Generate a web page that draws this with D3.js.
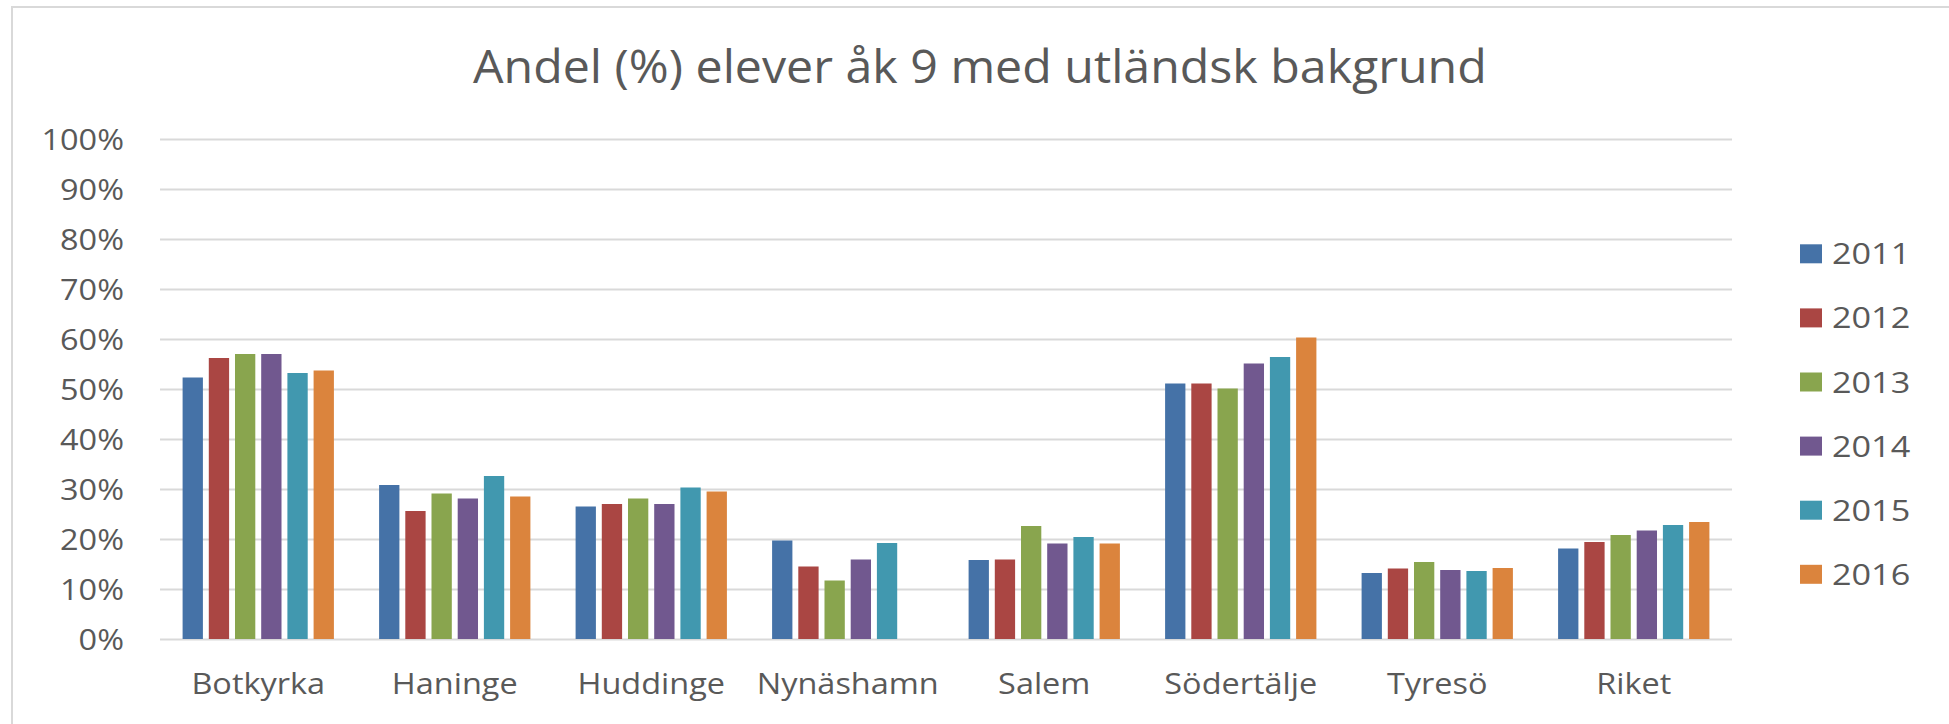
<!DOCTYPE html>
<html>
<head>
<meta charset="utf-8">
<script src="https://cdn.jsdelivr.net/npm/d3@7"></script>
<style>
  html, body { margin: 0; padding: 0; background: #ffffff; }
  svg { display: block; }
  text { font-family: "Open Sans", "DejaVu Sans", sans-serif; fill: #595959; }
</style>
</head>
<body>
<script>
// ---- data ----
const title = "Andel (%) elever åk 9 med utländsk bakgrund";
const categories = ["Botkyrka", "Haninge", "Huddinge", "Nynäshamn", "Salem", "Södertälje", "Tyresö", "Riket"];
const years = ["2011", "2012", "2013", "2014", "2015", "2016"];
const s2011 = [52.3, 30.8, 26.5, 19.7, 15.8, 51.1, 13.2, 18.1];
const s2012 = [56.2, 25.6, 27.0, 14.5, 15.9, 51.1, 14.1, 19.4];
const s2013 = [57.0, 29.1, 28.1, 11.7, 22.6, 50.1, 15.4, 20.8];
const s2014 = [57.0, 28.1, 27.0, 15.9, 19.1, 55.1, 13.8, 21.7];
const s2015 = [53.2, 32.6, 30.3, 19.2, 20.4, 56.4, 13.6, 22.8];
const s2016 = [53.7, 28.5, 29.5, null, 19.1, 60.3, 14.2, 23.4];
const yTicks = [0, 10, 20, 30, 40, 50, 60, 70, 80, 90, 100];
const colors = ["#4572A7", "#AA4643", "#89A54E", "#71588F", "#4198AF", "#DB843D"];

const seriesValues = [s2011, s2012, s2013, s2014, s2015, s2016];

// ---- layout ----
const W = 1949, H = 724;
const plot = { left: 160, right: 1732, top: 139, bottom: 639 };
const stretch = 1.12;

const svg = d3.select("body").append("svg").attr("width", W).attr("height", H);

// chart border (left + top visible)
svg.append("path")
  .attr("d", `M12,${H} L12,7 L${W},7`)
  .attr("fill", "none").attr("stroke", "#D9D9D9").attr("stroke-width", 2);

const x0 = d3.scaleBand().domain(categories).range([plot.left, plot.right])
  .paddingInner(0.23).paddingOuter(0.115);
const x1 = d3.scaleBand().domain(years).range([0, x0.bandwidth()])
  .paddingInner(0.225).paddingOuter(0);
const y = d3.scaleLinear().domain([0, 100]).range([plot.bottom, plot.top]);
const color = d3.scaleOrdinal().domain(years).range(colors);

function stretchText(sel, sx) {
  sel.each(function () {
    const t = d3.select(this);
    const tx = +t.attr("data-x"), ty = +t.attr("data-y");
    t.attr("transform", `translate(${tx},${ty}) scale(${sx},1)`);
  });
}

// gridlines
const yAxisGrid = d3.axisLeft(y).tickValues(yTicks)
  .tickSize(-(plot.right - plot.left)).tickFormat("");
const grid = svg.append("g").attr("transform", `translate(${plot.left},0)`).call(yAxisGrid);
grid.select(".domain").remove();
grid.selectAll(".tick line").attr("stroke", "#D9D9D9").attr("stroke-width", 2);

// y labels
svg.append("g").selectAll("text").data(yTicks).join("text")
  .attr("data-x", 124).attr("data-y", d => y(d) + 10.5)
  .attr("text-anchor", "end")
  .style("font-size", "29px")
  .text(d => d + "%")
  .call(stretchText, stretch);

// bars
const rows = [];
categories.forEach((c, i) => {
  years.forEach((yr, j) => {
    const v = seriesValues[j][i];
    if (v !== null && v !== undefined) rows.push({ cat: c, year: yr, value: v });
  });
});
svg.append("g").selectAll("rect").data(rows).join("rect")
  .attr("x", d => x0(d.cat) + x1(d.year))
  .attr("width", x1.bandwidth())
  .attr("y", d => y(d.value))
  .attr("height", d => y(0) - y(d.value))
  .attr("fill", d => color(d.year));

// x labels
svg.append("g").selectAll("text").data(categories).join("text")
  .attr("data-x", d => x0(d) + x0.bandwidth() / 2).attr("data-y", 694)
  .attr("text-anchor", "middle")
  .style("font-size", "29px")
  .text(d => d)
  .call(stretchText, stretch);

// legend
const legend = svg.append("g").selectAll("g").data(years).join("g")
  .attr("transform", (d, i) => `translate(1800,${253.8 + i * 64.1})`);
legend.append("rect")
  .attr("x", 0).attr("y", -9.5).attr("width", 22).attr("height", 19)
  .attr("fill", d => color(d));
legend.append("text")
  .attr("data-x", 32).attr("data-y", 10.5)
  .style("font-size", "29.5px")
  .text(d => d)
  .call(stretchText, 1.16);

// title
const tEl = svg.append("text")
  .attr("x", 0).attr("y", 0)
  .attr("text-anchor", "start")
  .style("font-size", "45px")
  .text(title);
const natural = tEl.node().getComputedTextLength();
const targetW = 1014;
tEl.attr("transform", `translate(473,82.7) scale(${targetW / natural},1)`);
</script>
</body>
</html>
